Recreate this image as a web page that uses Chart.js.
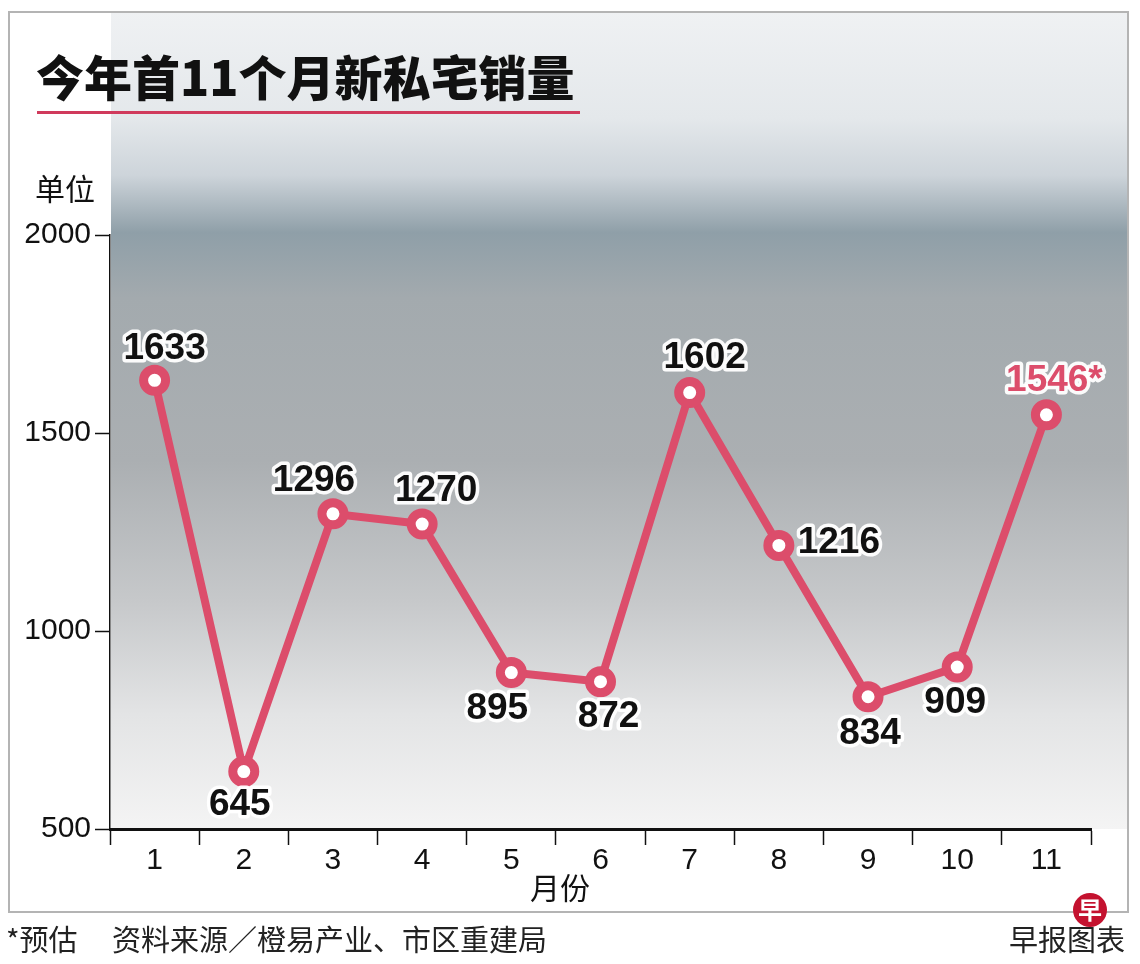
<!DOCTYPE html>
<html>
<head>
<meta charset="utf-8">
<script src="https://cdn.jsdelivr.net/npm/chart.js@4.4.0/dist/chart.umd.min.js"></script>
<style>
  body { margin: 0; background: #fff; }
  #wrap { width: 1140px; height: 964px; }
</style>
</head>
<body>
<div id="wrap"><canvas id="myChart" width="1140" height="964"></canvas></div>
<script>
// data
var months = ['1', '2', '3', '4', '5', '6', '7', '8', '9', '10', '11'];
var sales = [1633, 645, 1296, 1270, 895, 872, 1602, 1216, 834, 909, 1546];
var estimated = [false, false, false, false, false, false, false, false, false, false, true];
var yTicks = [500, 1000, 1500, 2000];

// where each value label sits relative to its point
var labelOffsets = [
    [10, -32], [-4, 33], [-19, -33], [14, -33], [-14, 36], [8, 35],
    [15, -35], [60, -3], [2, 37], [-2, 36], [8, -34]
];

var lineColor = '#dc4d6b';
var FONT = '"Liberation Sans", Arial, sans-serif';
var CJK = '"Noto Sans CJK SC", "Noto Sans", sans-serif';

var backdrop = {
    id: 'backdrop',
    beforeDraw: function(chart) {
        var ctx = chart.ctx;
        var bottom = chart.chartArea.bottom;
        var g = ctx.createLinearGradient(0, 12, 0, bottom);
        g.addColorStop(0.00, '#eff1f3');
        g.addColorStop(0.13, '#e4e8eb');
        g.addColorStop(0.20, '#cdd4da');
        g.addColorStop(0.27, '#8f9fa8');
        g.addColorStop(0.35, '#a3aaae');
        g.addColorStop(0.55, '#abafb2');
        g.addColorStop(0.72, '#c6c8ca');
        g.addColorStop(0.86, '#e3e4e5');
        g.addColorStop(1.00, '#f4f4f4');
        ctx.save();
        ctx.fillStyle = g;
        ctx.fillRect(111, 12, 1128 - 111, bottom - 12);
        ctx.restore();
    }
};

var decorations = {
    id: 'decorations',
    afterDraw: function(chart) {
        var ctx = chart.ctx;
        ctx.save();
        // frame
        ctx.strokeStyle = '#b4b4b4';
        ctx.lineWidth = 2;
        ctx.strokeRect(9, 12, 1119, 900);

        // title
        ctx.fillStyle = '#111';
        ctx.font = '900 48px ' + CJK;
        ctx.textAlign = 'left';
        ctx.textBaseline = 'middle';
        ctx.fillText('今年首11个月新私宅销量', 36, 78);
        ctx.fillStyle = '#d03a5c';
        ctx.fillRect(37, 111, 543, 3);

        // unit
        ctx.fillStyle = '#111';
        ctx.font = '30px ' + CJK;
        ctx.fillText('单位', 35, 189);

        // axis title
        ctx.textAlign = 'center';
        ctx.fillText('月份', 560, 888);

        // footer
        ctx.fillStyle = '#222';
        ctx.font = '29px ' + CJK;
        ctx.textAlign = 'left';
        ctx.fillText('*预估', 6, 940);
        ctx.fillText('资料来源／橙易产业、市区重建局', 112, 940);
        ctx.textAlign = 'right';
        ctx.fillText('早报图表', 1125, 940);

        // logo
        ctx.fillStyle = '#c4122f';
        ctx.beginPath();
        ctx.arc(1090, 910, 17, 0, Math.PI * 2);
        ctx.fill();
        ctx.fillStyle = '#fff';
        ctx.font = 'bold 24px ' + CJK;
        ctx.textAlign = 'center';
        ctx.fillText('早', 1090, 910);
        ctx.restore();
    }
};

var valueLabels = {
    id: 'valueLabels',
    afterDatasetsDraw: function(chart) {
        var ctx = chart.ctx;
        var points = chart.getDatasetMeta(0).data;
        ctx.save();
        ctx.font = 'bold 37px ' + FONT;
        ctx.textAlign = 'center';
        ctx.textBaseline = 'middle';
        ctx.lineJoin = 'round';
        points.forEach(function(pt, i) {
            var text = String(sales[i]) + (estimated[i] ? '*' : '');
            var x = pt.x + labelOffsets[i][0];
            var y = pt.y + labelOffsets[i][1];
            ctx.strokeStyle = 'rgba(255,255,255,0.95)';
            ctx.lineWidth = 7;
            ctx.strokeText(text, x, y);
            ctx.fillStyle = estimated[i] ? lineColor : '#111';
            ctx.fillText(text, x, y);
        });
        ctx.restore();
    }
};

var ctx = document.getElementById('myChart');

var myChart = new Chart(ctx, {
    type: 'line',
    data: {
        labels: months,
        datasets: [
            {
                label: '新私宅销量',
                data: sales,
                fill: false,
                borderColor: lineColor,
                borderWidth: 8,
                pointRadius: 11,
                pointHoverRadius: 11,
                pointBorderWidth: 9,
                pointBackgroundColor: '#fff',
                pointBorderColor: lineColor,
                lineTension: 0
            }
        ]
    },
    options: {
        responsive: false,
        animation: false,
        devicePixelRatio: 1,
        layout: { padding: { top: 235, right: 49, left: 0, bottom: 0 } },
        plugins: {
            legend: { display: false },
            tooltip: { enabled: false }
        },
        scales: {
            x: {
                offset: true,
                grid: {
                    offset: true,
                    drawOnChartArea: false,
                    drawTicks: true,
                    tickLength: 16,
                    tickWidth: 1.5,
                    tickColor: '#111'
                },
                border: { display: true, color: '#111', width: 3 },
                ticks: {
                    color: '#111',
                    padding: -2,
                    maxRotation: 0,
                    font: { family: FONT, size: 30 }
                },
                afterFit: function(scale) { scale.height = 135; }
            },
            y: {
                min: 500,
                max: 2000,
                afterBuildTicks: function(scale) {
                    scale.ticks = yTicks.map(function(v) { return { value: v }; });
                },
                grid: {
                    drawOnChartArea: false,
                    drawTicks: true,
                    tickLength: 15,
                    tickWidth: 1.5,
                    tickColor: '#111'
                },
                border: { display: true, color: '#111', width: 1.5 },
                ticks: {
                    color: '#111',
                    padding: 4,
                    font: { family: FONT, size: 30 },
                    callback: function(v) { return String(v); }
                },
                afterFit: function(scale) { scale.width = 110; }
            }
        }
    },
    plugins: [backdrop, valueLabels, decorations]
});
</script>
</body>
</html>
